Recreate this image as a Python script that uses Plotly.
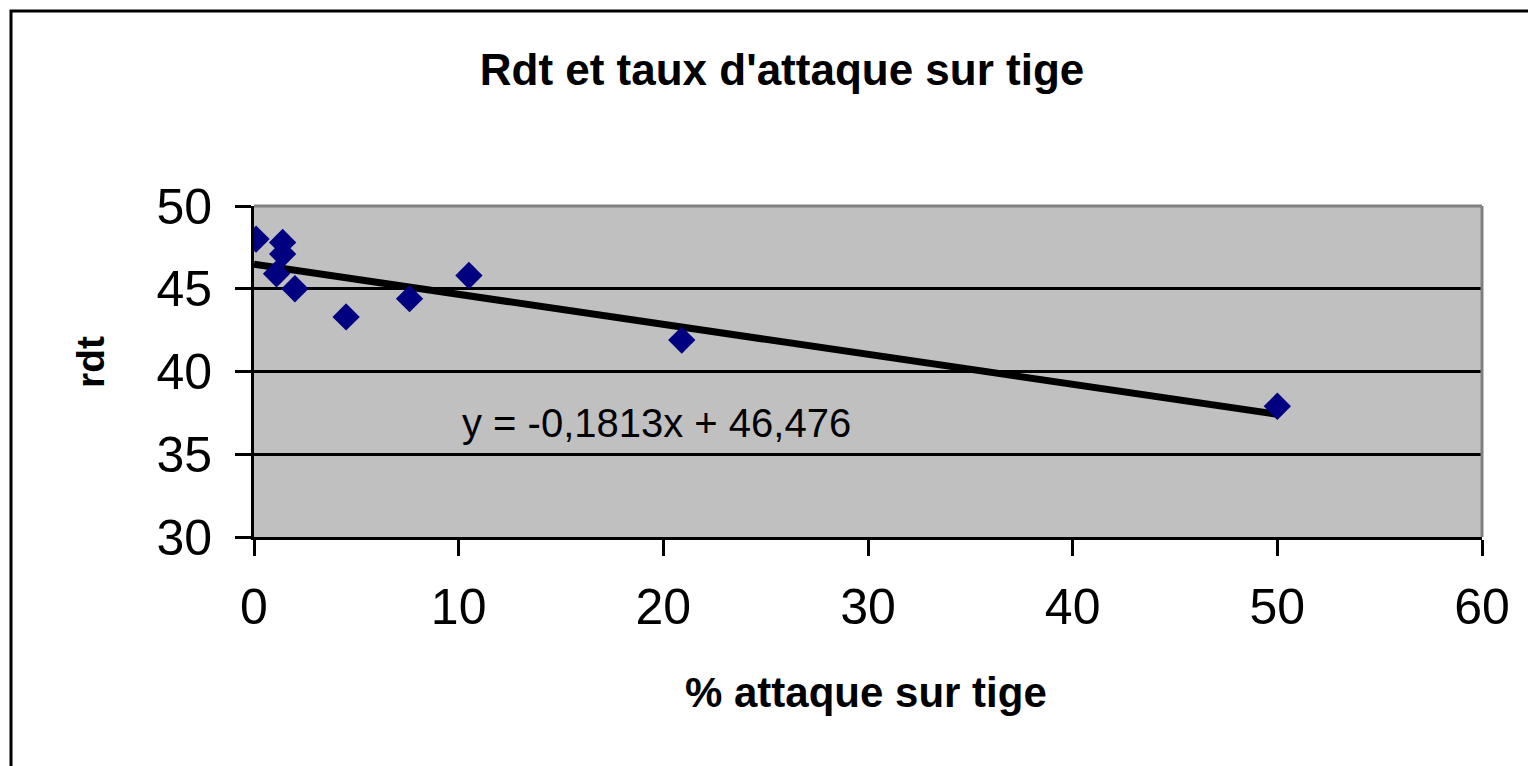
import numpy as np
import plotly.graph_objects as go

# Data
attaque = [0.1, 1.4, 1.4, 1.1, 2.0, 4.5, 7.6, 10.5, 20.9, 50.0]
rdt = [48.0, 47.8, 47.1, 45.9, 45.0, 43.3, 44.4, 45.8, 41.9, 37.9]
slope = -0.1813
intercept = 46.476
equation_label = "y = -0,1813x + 46,476"
title_text = "Rdt et taux d'attaque sur tige"
x_title = "% attaque sur tige"
y_title = "rdt"

OFF = 8  # page body margin
W, H = 1536 - OFF, 766 - OFF
L, R, T, B = 254 - OFF, 1482 - OFF, 206 - OFF, 537 - OFF

fig = go.Figure()

trend_x = np.array([0.0, max(attaque)])
trend_y = slope * trend_x + intercept
fig.add_trace(go.Scatter(x=trend_x, y=trend_y, mode="lines",
                         line=dict(color="black", width=7), hoverinfo="skip",
                         showlegend=False))
fig.add_trace(go.Scatter(x=attaque, y=rdt, mode="markers",
                         marker=dict(symbol="diamond", size=21, color="#000080",
                                     line=dict(width=0)),
                         showlegend=False))

font = "Liberation Sans, Arial, sans-serif"

def px_x(px):
    return (px - OFF - L) / (R - L)

def px_y(py):
    return (B - (py - OFF)) / (B - T)

shapes = [
    dict(type="rect", xref="paper", yref="paper",
         x0=px_x(11), x1=px_x(1700), y0=px_y(900), y1=px_y(11),
         line=dict(color="black", width=3), fillcolor="rgba(0,0,0,0)", layer="below"),
    dict(type="line", xref="paper", yref="paper", x0=0, x1=1, y0=1, y1=1,
         line=dict(color="#808080", width=3), layer="above"),
    dict(type="line", xref="paper", yref="paper", x0=1, x1=1, y0=0, y1=1,
         line=dict(color="#808080", width=3), layer="above"),
]

fig.update_layout(
    width=W, height=H,
    margin=dict(l=L, r=W - R, t=T, b=H - B, pad=0),
    paper_bgcolor="white",
    plot_bgcolor="#C0C0C0",
    font=dict(family=font, color="black"),
    title=dict(text="<b>" + title_text + "</b>", x=(782 - OFF) / W, xanchor="center",
               y=1 - (70 - OFF) / H, yanchor="middle",
               font=dict(size=44, family=font, color="black")),
    shapes=shapes,
    annotations=[
        dict(text=equation_label, xref="paper", yref="paper",
             x=px_x(460), y=px_y(423), xanchor="left", yanchor="middle",
             showarrow=False, font=dict(size=40, family=font, color="black")),
        dict(text="<b>" + x_title + "</b>", xref="paper", yref="paper",
             x=px_x(866), y=px_y(692), xanchor="center", yanchor="middle",
             showarrow=False, font=dict(size=42, family=font, color="black")),
        dict(text="<b>" + y_title + "</b>", xref="paper", yref="paper",
             x=px_x(90), y=px_y(362), xanchor="center", yanchor="middle",
             textangle=-90, showarrow=False,
             font=dict(size=39, family=font, color="black")),
    ],
    xaxis=dict(range=[0, 60], tick0=0, dtick=10, showgrid=False, zeroline=False,
               showline=True, linecolor="black", linewidth=3,
               ticks="outside", ticklen=16, tickwidth=3, tickcolor="black",
               ticklabelstandoff=8,
               tickfont=dict(size=50, family=font, color="black")),
    yaxis=dict(range=[30, 50], tick0=30, dtick=5, showgrid=True, gridcolor="black",
               gridwidth=3, zeroline=False,
               showline=True, linecolor="black", linewidth=3,
               ticks="outside", ticklen=16, tickwidth=3, tickcolor="black",
               ticklabelstandoff=13,
               tickfont=dict(size=50, family=font, color="black")),
)

fig.write_html("out.html")
